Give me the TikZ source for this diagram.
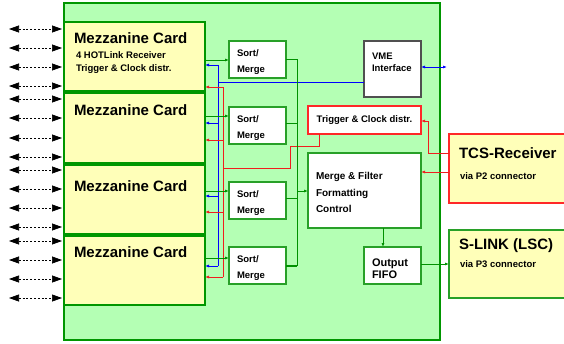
\documentclass[tikz,border=0pt]{standalone}
\usepackage{fontspec}
\setmainfont{Liberation Sans}
\usetikzlibrary{arrows.meta}
\definecolor{bggreen}{RGB}{180,255,180}
\definecolor{cardyel}{RGB}{255,255,185}
\definecolor{maingreen}{RGB}{0,150,0}
\definecolor{boxgreen}{RGB}{40,160,40}
\definecolor{lngreen}{RGB}{0,145,0}
\definecolor{boxred}{RGB}{255,40,40}
\definecolor{lnred}{RGB}{240,30,30}
\definecolor{lnblue}{RGB}{0,0,255}
\definecolor{vmegray}{RGB}{80,80,80}
\begin{document}
\begin{tikzpicture}[x=1pt,y=-1pt,
  bx/.style={draw, rectangle, inner sep=0pt, outer sep=0pt, anchor=north west},
  t/.style={inner sep=0pt, outer sep=0pt, anchor=base west, text=black},
  big/.style={font=\bfseries\fontsize{15}{15}\selectfont},
  sm/.style={font=\bfseries\fontsize{9.5}{10}\selectfont},
  md/.style={font=\bfseries\fontsize{10}{11}\selectfont},
  fifofont/.style={font=\bfseries\fontsize{11}{12}\selectfont},
  tip/.style={-{Latex[length=4pt,width=3pt]}},
  bl/.style={draw=lnblue, line width=0.8pt},
  rd/.style={draw=lnred, line width=0.8pt},
  gn/.style={draw=lngreen, line width=0.8pt},
  dashar/.style={draw=black, line width=0.7pt, dash pattern=on 2pt off 1.8pt,
    {Triangle[length=10pt,width=7pt]}-{Triangle[length=10pt,width=7pt]}}]
\useasboundingbox (0,0) rectangle (564,343);

% main board
\node[bx, fill=bggreen, draw=maingreen, line width=1.5pt, minimum width=376pt, minimum height=337pt] (main) at (64,3) {};

% mezzanine cards
\node[bx, fill=cardyel, draw=maingreen, line width=1.5pt, minimum width=141pt, minimum height=69pt] (card1) at (64,22) {};
\node[bx, fill=cardyel, draw=maingreen, line width=1.5pt, minimum width=141pt, minimum height=70pt] (card2) at (64,93) {};
\node[bx, fill=cardyel, draw=maingreen, line width=1.5pt, minimum width=141pt, minimum height=69pt] (card3) at (64,165) {};
\node[bx, fill=cardyel, draw=maingreen, line width=1.5pt, minimum width=141pt, minimum height=69pt] (card4) at (64,236) {};

\node[t, big] (c1t) at (74,43.4) {Mezzanine Card};
\node[t, sm] (c1a) at (76,58.6) {4 HOTLink Receiver};
\node[t, sm] (c1b) at (76,71.6) {Trigger \& Clock distr.};
\node[t, big] (c2t) at (74,115.4) {Mezzanine Card};
\node[t, big] (c3t) at (74,191.4) {Mezzanine Card};
\node[t, big] (c4t) at (74,257.4) {Mezzanine Card};

% sort/merge boxes
\foreach \n/\y in {1/41,2/107,3/182,4/247}{
  \node[bx, fill=white, draw=boxgreen, line width=1.2pt, minimum width=57pt, minimum height=37pt] (sm\n) at (229,\y) {};
  \node[t, sm] (sm\n a) at (237,\y+15) {Sort/};
  \node[t, sm] (sm\n b) at (237,\y+31) {Merge};
}

% VME
\node[bx, fill=white, draw=vmegray, line width=1.2pt, minimum width=57pt, minimum height=56pt] (vme) at (364,41) {};
\node[t, sm] (vmea) at (372,59.4) {VME};
\node[t, sm] (vmeb) at (372,71.4) {Interface};

% Trigger & Clock
\node[bx, fill=white, draw=boxred, line width=1.2pt, minimum width=113pt, minimum height=28pt] (trig) at (308,106) {};
\node[sm, inner sep=0pt, text=black] (trigt) at (trig.center) {Trigger \& Clock distr.};

% Merge & Filter
\node[bx, fill=white, draw=boxgreen, line width=1.2pt, minimum width=113pt, minimum height=75pt] (merge) at (308,153) {};
\node[t, md] (mga) at (316,179.6) {Merge \& Filter};
\node[t, md] (mgb) at (316,196.6) {Formatting};
\node[t, md] (mgc) at (316,212.6) {Control};

% Output FIFO
\node[bx, fill=white, draw=boxgreen, line width=1.2pt, minimum width=57pt, minimum height=37pt] (fifo) at (364,247) {};
\node[t, fifofont] (ffa) at (372,266) {Output};
\node[t, fifofont] (ffb) at (372,278) {FIFO};

% TCS receiver
\node[bx, fill=cardyel, draw=boxred, line width=1.2pt, minimum width=117pt, minimum height=69pt] (tcs) at (449,134) {};
\node[t, big] (tcsa) at (459,158.4) {TCS-Receiver};
\node[t, sm] (tcsb) at (460,179.4) {via P2 connector};

% S-LINK
\node[bx, fill=cardyel, draw=boxgreen, line width=1.2pt, minimum width=117pt, minimum height=68pt] (slink) at (449,230) {};
\node[t, big] (sla) at (459,249.4) {S-LINK (LSC)};
\node[t, sm] (slb) at (460,267.4) {via P3 connector};

% left dashed arrows
\foreach \y in {29,48,67,86,99,118,138,157,170,189,208,227,241,260,279,298}{
  \coordinate (L\y) at (9,\y);
  \draw[dashar] (L\y) -- ([xshift=-2pt]main.west |- L\y);
}

% blue bus
\coordinate (bbus) at (218,0);
\draw[bl] (bbus |- 0,65) -- (bbus |- 0,266);
\draw[bl] (bbus |- 0,82) -- (vme.west |- 0,82);
\draw[bl, tip] (bbus |- 0,65) -- (card1.east |- 0,65);
\draw[bl, tip] (bbus |- 0,123) -- (card2.east |- 0,123);
\draw[bl, tip] (bbus |- 0,196) -- (card3.east |- 0,196);
\draw[bl, tip] (bbus |- 0,266) -- (card4.east |- 0,266);
\coordinate (vmeout) at (447,67);
\draw[bl, {Latex[length=4pt,width=3pt]}-{Latex[length=4pt,width=3pt]}] (vme.east |- vmeout) -- (vmeout);

% red bus
\coordinate (rbus) at (223,0);
\draw[rd] (rbus |- 0,87) -- (rbus |- 0,277);
\draw[rd, tip] (rbus |- 0,87) -- (card1.east |- 0,87);
\draw[rd, tip] (rbus |- 0,140) -- (card2.east |- 0,140);
\draw[rd, tip] (rbus |- 0,212) -- (card3.east |- 0,212);
\draw[rd, tip] (rbus |- 0,277) -- (card4.east |- 0,277);
\draw[rd] (rbus |- 0,168) -- (290,168) -- (290,146) -- (319,146) -- (319,0 |- trig.south);
\draw[rd, tip] (tcs.west |- 0,153) -- (428,153) -- (428,121) -- (trig.east |- 0,121);
\draw[rd, tip] (tcs.west |- 0,172) -- (merge.east |- 0,172);

% green
\draw[gn, tip] (card1.east |- 0,60) -- (sm1.west |- 0,60);
\draw[gn, tip] (card2.east |- 0,116) -- (sm2.west |- 0,116);
\draw[gn, tip] (card3.east |- 0,191) -- (sm3.west |- 0,191);
\draw[gn, tip] (card4.east |- 0,258) -- (sm4.west |- 0,258);
\coordinate (gbus) at (297,0);
\draw[gn] (sm1.east |- 0,59) -- (gbus |- 0,59) -- (gbus |- 0,266);
\draw[gn] (sm2.east |- 0,123) -- (gbus |- 0,123);
\draw[gn] (sm3.east |- 0,198) -- (gbus |- 0,198);
\draw[gn, line width=1.6pt] (sm4.east |- 0,266) -- (gbus |- 0,266);
\draw[gn, tip] (gbus |- 0,191) -- (merge.west |- 0,191);
\draw[gn, tip] (merge.south -| 383,0) -- (fifo.north -| 383,0);
\draw[gn, tip] (fifo.east |- 0,264) -- (slink.west |- 0,264);
\end{tikzpicture}
\end{document}
